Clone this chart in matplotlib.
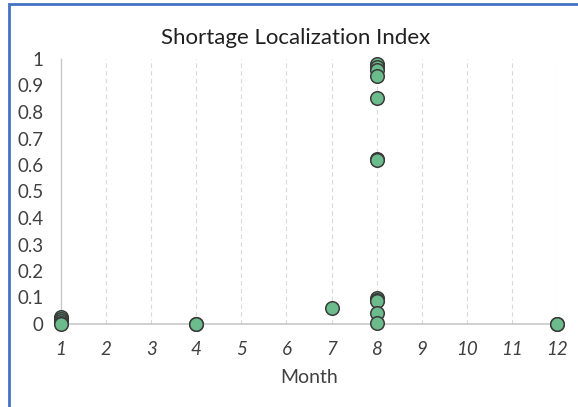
import matplotlib
matplotlib.use("Agg")
import matplotlib.pyplot as plt
from matplotlib.patches import Rectangle

plt.rcParams['font.family'] = ['Lato', 'DejaVu Sans']

months = [1, 1, 1, 1, 1,
          4, 4,
          7,
          8, 8, 8, 8, 8, 8, 8, 8, 8, 8, 8, 8,
          12, 12]
index_vals = [0.025, 0.018, 0.01, 0.004, 0.0,
              0.0, 0.001,
              0.059,
              0.981, 0.968, 0.958, 0.934, 0.851, 0.622, 0.617, 0.1, 0.092, 0.088, 0.04, 0.005,
              0.0, 0.001]
x_ticks = list(range(1, 13))
y_ticks = [0, 0.1, 0.2, 0.3, 0.4, 0.5, 0.6, 0.7, 0.8, 0.9, 1]
y_tick_labels = ['0', '0.1', '0.2', '0.3', '0.4', '0.5', '0.6', '0.7', '0.8', '0.9', '1']

fig = plt.figure(figsize=(5.78, 4.07), dpi=100)
ax = fig.add_axes([61/578, 1-324/407, (557-61)/578, (324-59)/407])

ax.set_xlim(1, 12)
ax.set_ylim(0, 1)

for m in x_ticks[1:]:
    ax.axvline(m, color='#d9d9d9', linestyle=(0, (4, 3)), linewidth=0.8, zorder=1)

for s in ['top', 'right']:
    ax.spines[s].set_visible(False)
ax.spines['left'].set_color('#c8c8c8')
ax.spines['bottom'].set_color('#c8c8c8')
ax.spines['left'].set_linewidth(1.0)
ax.spines['bottom'].set_linewidth(1.2)

ax.scatter(months, index_vals, s=95, color='#6cbb8c', edgecolors='#3a3a3a',
           linewidths=1.1, zorder=3, clip_on=False)

ax.set_xticks(x_ticks)
ax.set_xticklabels([str(m) for m in x_ticks], fontstyle='italic', fontsize=13.5, color='#404040')
ax.set_yticks(y_ticks)
ax.set_yticklabels(y_tick_labels, fontsize=13.5, color='#404040')
ax.tick_params(axis='both', length=0)
ax.tick_params(axis='x', pad=12)
ax.tick_params(axis='y', pad=12.5)

ax.set_xlabel('Month', fontsize=14, color='#404040', labelpad=8)
ax.set_title('Shortage Localization Index', fontsize=16, color='#202020', pad=11,
             x=(296 - 61) / 496)

border = Rectangle((8.5/578, -0.1), 1.2, 1 - 4.5/407 + 0.1, transform=fig.transFigure,
                   fill=False, edgecolor='#4472c4', linewidth=2.0, clip_on=False)
fig.patches.append(border)

fig.savefig('out.png', dpi=100)
